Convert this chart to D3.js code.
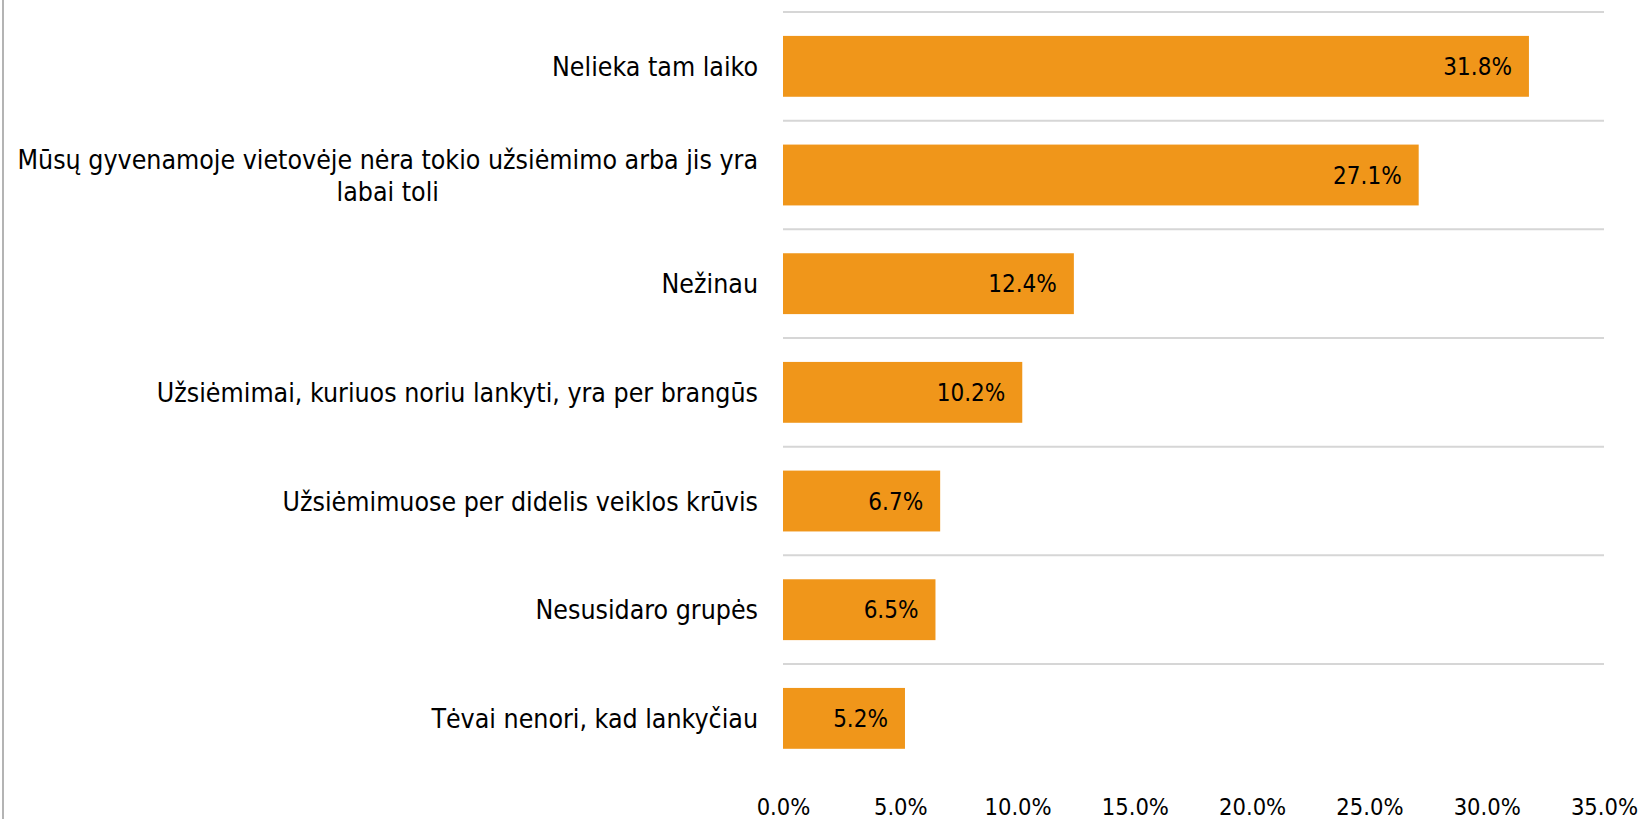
<!DOCTYPE html>
<html>
<head>
<meta charset="utf-8">
<script src="https://cdn.jsdelivr.net/npm/d3@7"></script>
<style>
  body { margin: 0; background: #fff; }
  svg { display: block; }
  text { font-family: "DejaVu Sans Condensed", "DejaVu Sans", sans-serif; fill: #000; }
</style>
</head>
<body>
<script>
var width = 1642,
    height = 819;

// data
var categories = [
    "Nelieka tam laiko",
    "Mūsų gyvenamoje vietovėje nėra tokio užsiėmimo arba jis yra labai toli",
    "Nežinau",
    "Užsiėmimai, kuriuos noriu lankyti, yra per brangūs",
    "Užsiėmimuose per didelis veiklos krūvis",
    "Nesusidaro grupės",
    "Tėvai nenori, kad lankyčiau"
];
var values = [31.8, 27.1, 12.4, 10.2, 6.7, 6.5, 5.2];
var xTicks = [0, 5, 10, 15, 20, 25, 30, 35];

var data = categories.map(function (c, i) { return { name: c, value: values[i] }; });

var plot = { left: 783, right: 1604, top: 12, bottom: 772.7 };
var labelFont = 26.5,
    valueFont = 24,
    tickFont = 23.5;

var svg = d3.select("body").append("svg")
    .attr("width", width)
    .attr("height", height);

// thin frame line on the left edge
svg.append("line")
    .attr("x1", 3).attr("x2", 3)
    .attr("y1", 0).attr("y2", height)
    .style("stroke", "#b4b4b4")
    .style("stroke-width", 2);

var xScale = d3.scaleLinear().domain([0, 35]).range([plot.left, plot.right]);
var rows = d3.scaleBand().domain(categories).range([plot.top, plot.bottom]).padding(0);
var yScale = d3.scaleBand().domain(categories).range([plot.top, plot.bottom])
    .paddingInner(0.44).paddingOuter(0.22);

// horizontal separators between categories
svg.append("g").selectAll("line")
    .data(categories)
    .enter().append("line")
    .attr("x1", plot.left)
    .attr("x2", plot.right)
    .attr("y1", function (d) { return rows(d); })
    .attr("y2", function (d) { return rows(d); })
    .style("stroke", "#d6d6d6")
    .style("stroke-width", 2);

// bars
svg.append("g").selectAll("rect")
    .data(data)
    .enter().append("rect")
    .attr("x", xScale(0))
    .attr("y", function (d) { return yScale(d.name); })
    .attr("width", function (d) { return xScale(d.value) - xScale(0); })
    .attr("height", yScale.bandwidth())
    .style("fill", "#F0961A");

// value labels inside bar ends
svg.append("g").selectAll("text")
    .data(data)
    .enter().append("text")
    .attr("x", function (d) { return xScale(d.value) - 17; })
    .attr("y", function (d) { return yScale(d.name) + yScale.bandwidth() / 2; })
    .attr("dy", "0.36em")
    .attr("text-anchor", "end")
    .style("font-size", valueFont + "px")
    .text(function (d) { return d.value.toFixed(1) + "%"; });

// x axis (labels only)
var xAxis = d3.axisBottom(xScale)
    .tickValues(xTicks)
    .tickSize(0)
    .tickPadding(0)
    .tickFormat(function (d) { return d.toFixed(1) + "%"; });

var axisG = svg.append("g")
    .attr("transform", "translate(0," + 797 + ")")
    .call(xAxis);
axisG.select(".domain").remove();
axisG.selectAll("text")
    .attr("dy", "0.76em")
    .style("font-size", tickFont + "px")
    .style("font-family", null)
    .attr("fill", null);

// category labels, wrapped to a max width, lines centred inside the block
var labelRight = 758,
    labelMax = 745,
    lineHeight = 32;

var labels = svg.append("g").selectAll("g")
    .data(categories)
    .enter().append("g");

labels.each(function (d) {
    var g = d3.select(this);
    var words = d.split(" "),
        lines = [],
        line = [];
    var probe = g.append("text").style("font-size", labelFont + "px");
    words.forEach(function (w) {
        line.push(w);
        probe.text(line.join(" "));
        if (probe.node().getComputedTextLength() > labelMax && line.length > 1) {
            line.pop();
            lines.push(line.join(" "));
            line = [w];
        }
    });
    lines.push(line.join(" "));
    probe.remove();

    var cy = rows(d) + rows.bandwidth() / 2;
    var y0 = cy - (lines.length - 1) * lineHeight / 2;
    var texts = g.selectAll("text")
        .data(lines)
        .enter().append("text")
        .attr("y", function (l, i) { return y0 + i * lineHeight; })
        .attr("dy", "0.36em")
        .style("font-size", labelFont + "px")
        .text(function (l) { return l; });

    var maxW = 0;
    texts.each(function () { maxW = Math.max(maxW, this.getComputedTextLength()); });
    if (lines.length > 1) {
        texts.attr("x", labelRight - maxW / 2).attr("text-anchor", "middle");
    } else {
        texts.attr("x", labelRight).attr("text-anchor", "end");
    }
});
</script>
</body>
</html>
